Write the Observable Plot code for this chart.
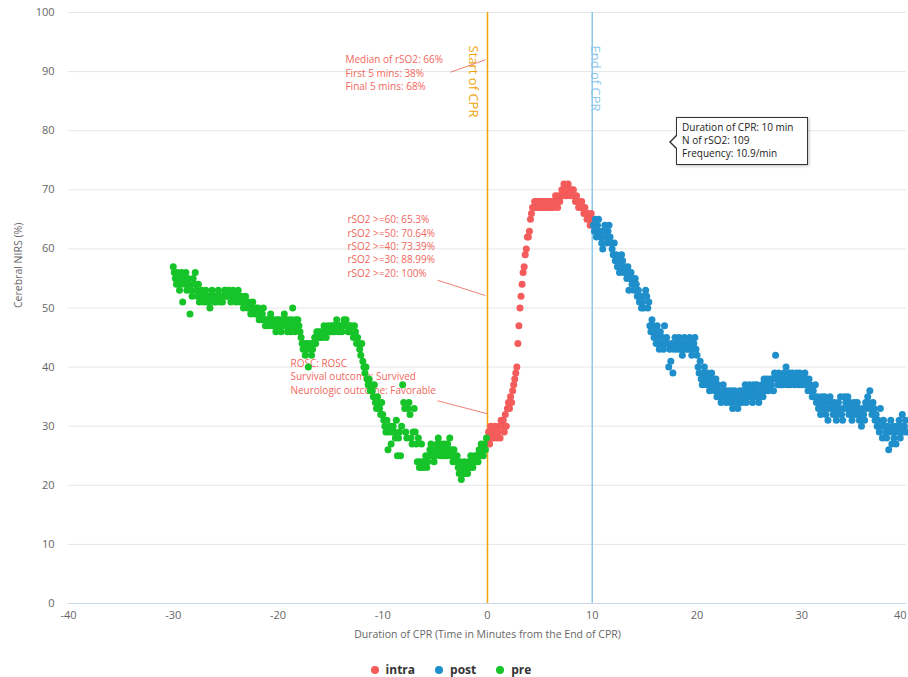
<!DOCTYPE html>
<html>
<head>
<meta charset="utf-8">
<script src="https://cdn.jsdelivr.net/npm/d3@7"></script>
<script src="https://cdn.jsdelivr.net/npm/@observablehq/plot@0.6"></script>
<style>
  body { margin: 0; background: #fff; font-family: "Open Sans", sans-serif; }
  #wrap { position: relative; width: 908px; height: 677px; overflow: hidden; }
  #chart svg { display: block; }
  .tip { position: absolute; left: 676px; top: 117px; width: 132px; height: 48px; box-sizing: border-box;
         border: 1px solid #333; background: #fff; font-size: 10px; color: #222; line-height: 13px;
         padding: 3px 0 0 5px; box-shadow: 1px 1px 3px rgba(0,0,0,0.25); white-space: nowrap; }
  .tip:before { content: ""; position: absolute; left: -8px; top: 17px; border-top: 7px solid transparent;
                border-bottom: 7px solid transparent; border-right: 7px solid #333; }
  .tip:after { content: ""; position: absolute; left: -6px; top: 18px; border-top: 6px solid transparent;
               border-bottom: 6px solid transparent; border-right: 6px solid #fff; }
  #legend { display: flex; justify-content: center; align-items: center; gap: 20px; height: 27px; margin-top: 6px;
            font-size: 12px; font-weight: bold; color: #333; padding-right: 6px; }
  #legend .item { display: flex; align-items: center; gap: 7px; }
  #legend .sw { width: 8px; height: 8px; border-radius: 50%; display: inline-block; }
</style>
</head>
<body>
<div id="wrap">
  <div id="chart"></div>
  <div id="legend"></div>
  <div class="tip" id="tip"></div>
</div>
<script>
// ---- data ----
const seriesNames = ["intra", "post", "pre"];
const seriesColors = ["#f45b5b", "#1f8fcb", "#16c42a"];
const xTicks = [-40, -30, -20, -10, 0, 10, 20, 30, 40];
const yTicks = [0, 10, 20, 30, 40, 50, 60, 70, 80, 90, 100];
const xTitle = "Duration of CPR (Time in Minutes from the End of CPR)";
const yTitle = "Cerebral NIRS (%)";
const sampleStep = 0.1;   // minutes between samples
const preStart = -30;
const intraStart = 0;
const postStart = 10.1;
const cprStart = 0;
const cprEnd = 10;
const cprLabels = ["Start of CPR", "End of CPR"];

const preValues = [
  57,56,55,54,56,55,53,54,56,51,
  55,54,56,53,55,54,49,53,52,55,
  54,56,53,52,54,51,52,53,52,51,
  52,53,51,52,51,50,52,53,52,51,
  52,51,52,53,52,51,52,51,52,53,
  53,52,52,53,52,51,52,53,52,52,
  51,52,53,52,51,52,51,50,51,52,
  51,50,51,50,49,50,51,50,49,50,
  49,50,48,49,48,49,50,48,47,48,
  48,47,48,49,48,47,48,47,46,48,
  47,48,47,46,48,47,49,48,47,46,
  48,47,46,48,50,47,46,48,47,48,
  47,46,45,44,43,44,42,43,44,40,
  43,44,42,43,44,45,44,46,45,46,
  45,46,45,46,47,46,45,46,47,46,
  46,47,46,47,46,47,48,47,46,47,
  47,46,47,48,47,48,47,46,47,46,
  47,46,45,47,46,44,45,44,43,42,
  44,41,40,39,40,38,37,38,36,37,
  36,35,37,34,33,35,34,33,32,34,
  32,31,30,29,31,26,29,30,27,29,
  30,29,28,31,25,28,29,25,30,37,
  34,33,29,28,33,34,32,28,27,29,
  33,29,27,24,28,23,24,27,23,24,
  24,25,23,24,25,26,27,25,26,24,
  25,26,27,28,26,25,27,26,25,27,
  26,25,27,26,28,25,26,24,26,25,
  24,25,23,22,24,21,22,23,24,22,
  23,22,24,23,25,24,23,24,25,24,
  25,24,26,25,27,26,25,27,26,28
];

const intraValues = [
  28,29,27,30,28,29,28,30,29,28,
  29,30,28,31,30,31,29,32,30,33,
  34,33,35,34,36,37,38,39,40,44,
  47,50,52,54,56,57,59,60,62,62,
  63,65,66,67,67,68,67,68,67,68,
  67,68,67,68,67,68,67,68,67,68,
  68,67,68,67,68,69,68,67,69,68,
  69,70,69,71,70,69,70,71,70,69,
  70,69,70,69,68,69,68,67,68,67,
  68,67,66,67,66,65,66,65,64,66,
  65
];

const postValues = [
  64,63,65,62,64,65,63,62,61,60,
  63,64,62,61,63,64,62,61,60,59,
  61,58,59,57,58,56,57,59,58,56,
  57,56,55,57,53,55,56,54,55,53,
  55,54,52,53,51,52,50,51,50,52,
  53,52,50,51,47,46,48,47,45,46,
  44,47,45,43,46,44,45,43,47,44,
  45,44,40,43,41,44,39,43,45,44,
  43,44,45,43,44,42,43,45,44,43,
  44,43,45,44,42,43,44,45,43,42,
  40,39,41,38,37,39,40,38,37,39,
  38,36,37,39,38,37,36,38,35,37,
  36,35,34,36,37,35,36,34,35,36,
  35,34,36,33,35,36,34,35,33,34,
  36,35,34,36,35,37,34,36,35,37,
  35,36,34,37,36,35,37,36,34,35,
  36,37,35,38,36,37,38,36,37,38,
  37,38,36,39,42,38,37,39,38,37,
  38,37,39,38,40,37,38,39,37,38,
  39,38,37,38,39,38,37,39,38,37,
  38,37,39,38,37,36,38,37,36,35,
  36,35,37,34,35,33,34,32,35,34,
  33,35,32,34,31,33,35,34,33,32,
  34,33,31,32,34,33,35,32,31,33,
  35,34,33,35,32,34,33,31,32,34,
  33,32,34,33,31,32,30,33,32,31,
  34,33,35,34,36,33,32,34,33,31,
  32,30,31,29,33,30,28,31,30,29,
  28,30,26,29,31,27,30,28,29,27,
  30,29,31,28,30,32,29,30,31,29
];

const annotationTexts = [
  "Median of rSO2: 66%\nFirst 5 mins: 38%\nFinal 5 mins: 68%",
  "rSO2 >=60: 65.3%\nrSO2 >=50: 70.64%\nrSO2 >=40: 73.39%\nrSO2 >=30: 88.99%\nrSO2 >=20: 100%",
  "ROSC: ROSC\nSurvival outcome: Survived\nNeurologic outcome: Favorable"
];
const annotationX = [-13.56, -13.37, -18.81];
const annotationY = [93.0, 65.9, 41.6];
const connectorX1 = [-3.53, -4.77, -4.77];
const connectorY1 = [89.9, 54.7, 34.3];
const connectorX2 = [-0.19, -0.19, 0];
const connectorY2 = [92.0, 52.1, 32.1];
const tipLines = ["Duration of CPR: 10 min", "N of rSO2: 109", "Frequency: 10.9/min"];

// ---- build table ----
const toRows = (vals, start, s) => vals.map((v, i) => ({t: +(start + i * sampleStep).toFixed(2), v, s}));
const rows = [
  ...toRows(intraValues, intraStart, "intra"),
  ...toRows(postValues, postStart, "post"),
  ...toRows(preValues, preStart, "pre")
];
const annotations = annotationTexts.map((text, i) => ({text, x: annotationX[i], y: annotationY[i]}));
const connectors = connectorX1.map((x1, i) => ({x1, y1: connectorY1[i], x2: connectorX2[i], y2: connectorY2[i]}));

const startColor = "#f0a30a";
const endColor = "#8ec8ea";
const annColor = "#f2675d";
const fmt = d => String(d);

const plot = Plot.plot({
  width: 908,
  height: 650,
  marginLeft: 68,
  marginRight: 2,
  marginTop: 12,
  marginBottom: 47,
  style: {fontFamily: "'Open Sans', sans-serif", fontSize: "11px", color: "#666", background: "#fff"},
  x: {domain: [-40, 40]},
  y: {domain: [0, 100]},
  color: {domain: seriesNames, range: seriesColors},
  marks: [
    Plot.gridY(yTicks, {stroke: "#e6e6e6", strokeOpacity: 1}),
    Plot.ruleY([0], {stroke: "#ccd6eb"}),
    Plot.axisY(yTicks, {tickSize: 0, tickPadding: 14, label: null, fill: "#666", fontSize: 11, tickFormat: fmt}),
    Plot.axisX(xTicks.slice(0, -1), {tickSize: 0, tickPadding: 8, label: null, fill: "#666", fontSize: 11, tickFormat: fmt}),
    Plot.axisX(xTicks.slice(-1), {tickSize: 0, tickPadding: 8, label: null, fill: "#666", fontSize: 11, textAnchor: "end", dx: 0, tickFormat: fmt}),
    Plot.text([xTitle], {text: d => d, frameAnchor: "bottom", lineAnchor: "top", dy: 27, fill: "#666", fontSize: 10.5}),
    Plot.text([yTitle], {text: d => d, frameAnchor: "left", rotate: -90, dx: -50, fill: "#666", fontSize: 10.5}),
    Plot.ruleX([cprStart], {stroke: startColor, strokeWidth: 1.5}),
    Plot.ruleX([cprEnd], {stroke: endColor, strokeWidth: 1.5}),
    Plot.text([cprLabels[0]], {text: d => d, x: cprStart, frameAnchor: "top", rotate: 90, textAnchor: "start", dx: -9, dy: 33, fill: startColor, fontSize: 13}),
    Plot.text([cprLabels[1]], {text: d => d, x: cprEnd, frameAnchor: "top", rotate: 90, textAnchor: "start", dx: 8, dy: 33, fill: endColor, fontSize: 13}),
    Plot.link(connectors, {x1: "x1", y1: "y1", x2: "x2", y2: "y2", stroke: "#ee7f77", strokeWidth: 1}),
    Plot.text(annotations, {x: "x", y: "y", text: "text", textAnchor: "start", lineAnchor: "top", lineHeight: 1.33, fill: annColor, fontSize: 10}),
    Plot.dot(rows, {x: "t", y: "v", fill: "s", r: 3.5})
  ]
});
document.getElementById("chart").appendChild(plot);

// legend
const legend = d3.select("#legend");
seriesNames.forEach((name, i) => {
  const item = legend.append("div").attr("class", "item");
  item.append("span").attr("class", "sw").style("background", seriesColors[i]);
  item.append("span").text(name);
});

// tooltip
d3.select("#tip").selectAll("div").data(tipLines).join("div").text(d => d);
</script>
</body>
</html>
